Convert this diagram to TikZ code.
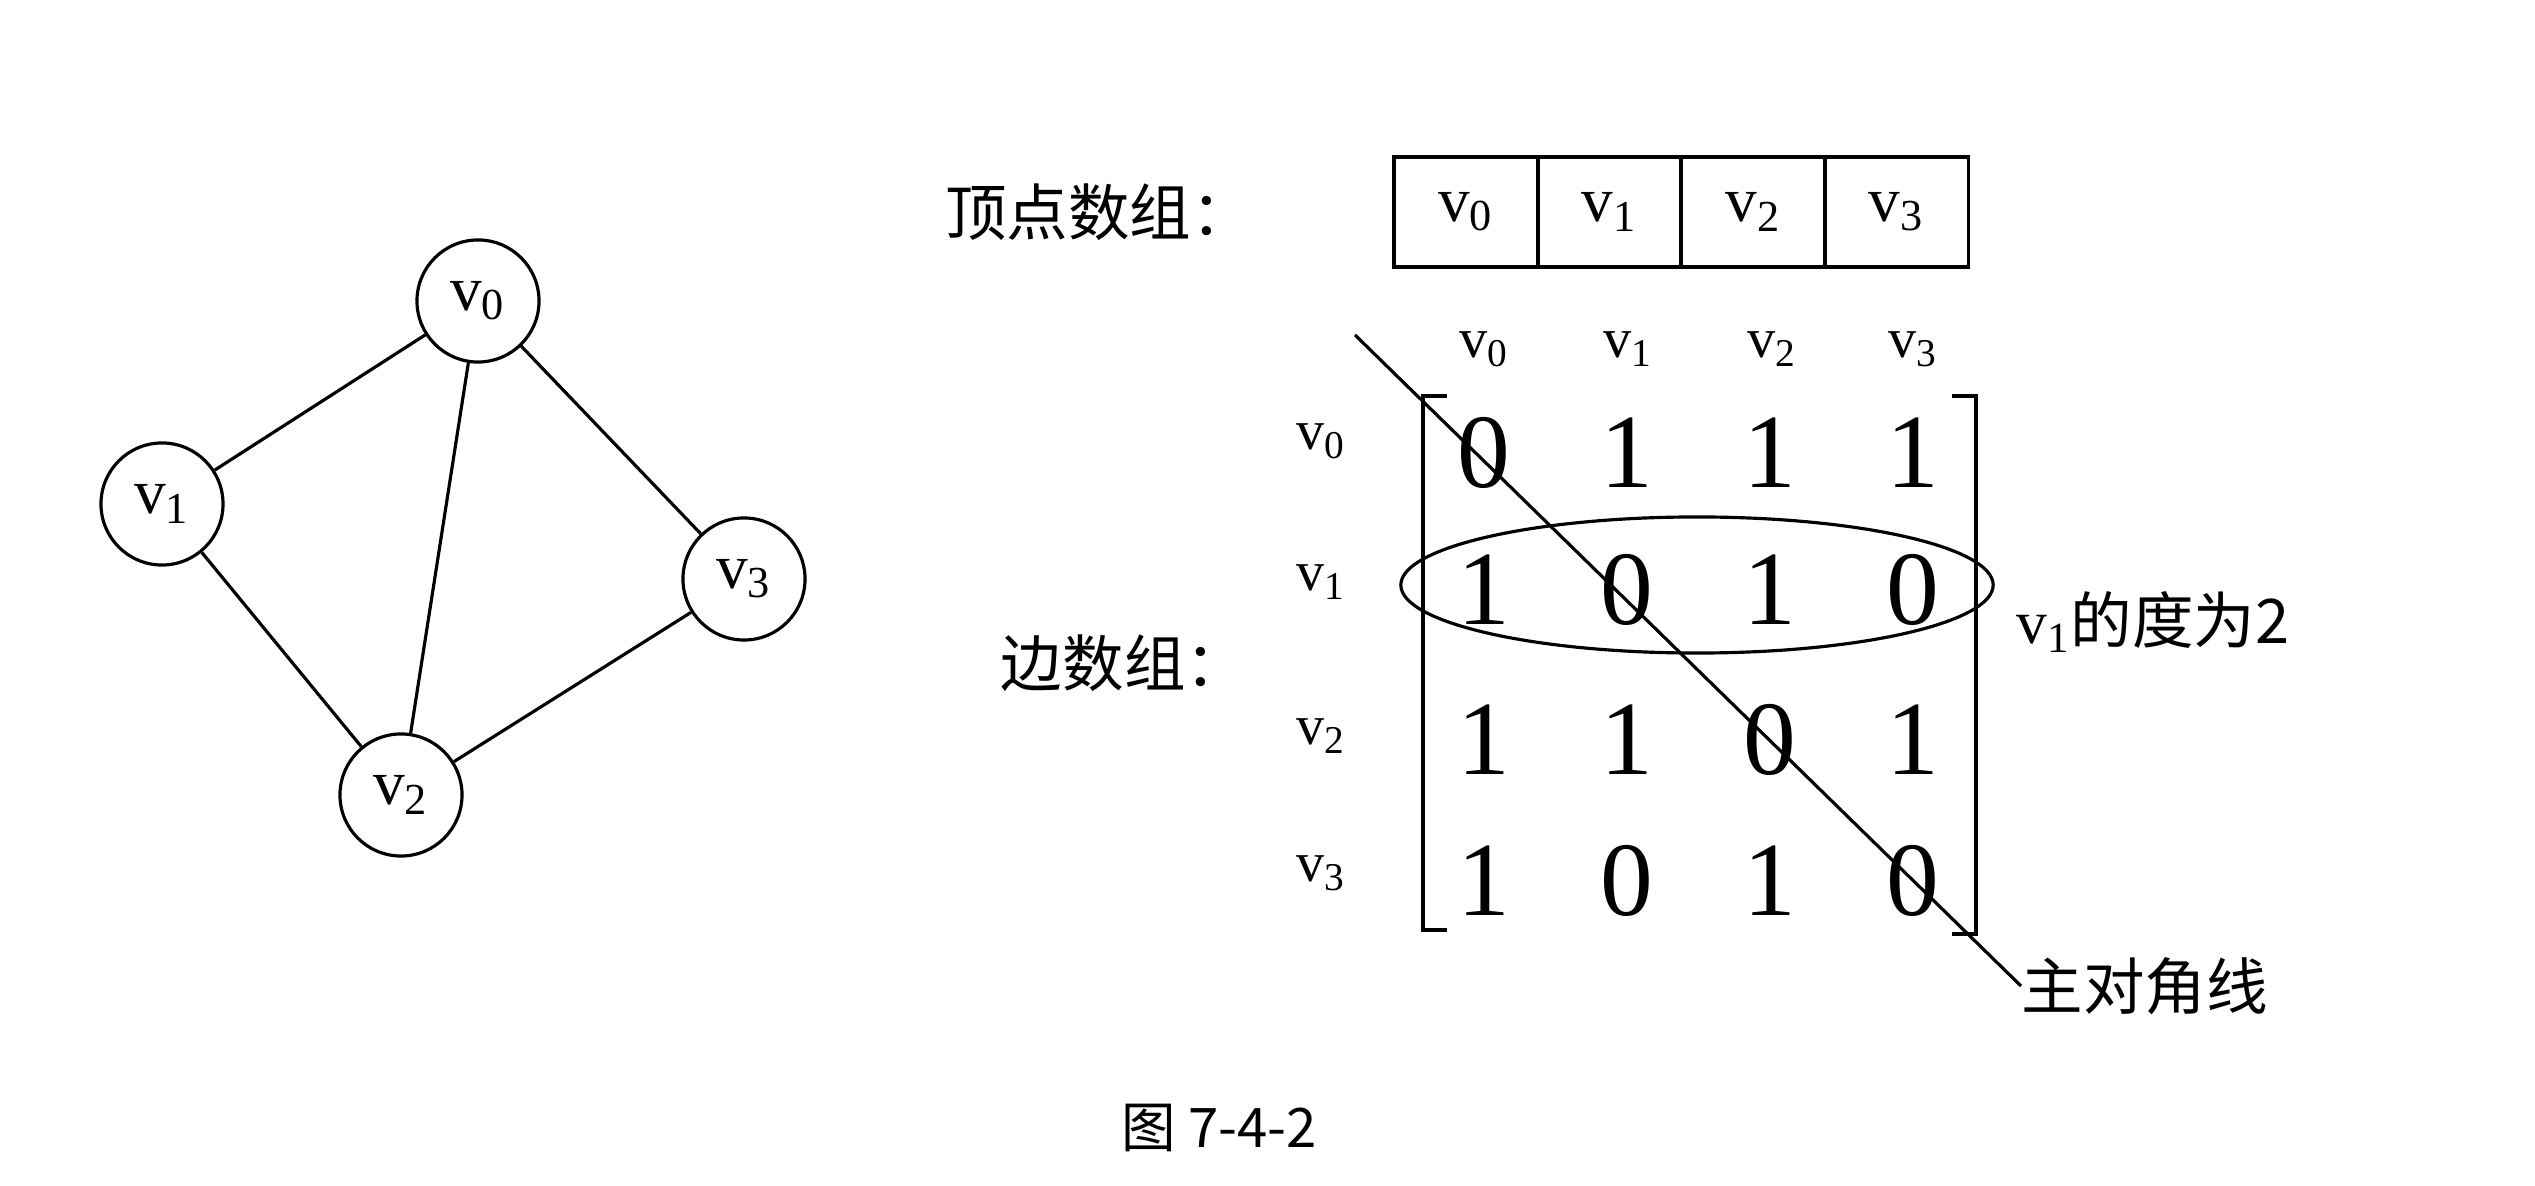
\documentclass[tikz,border=0pt]{standalone}
\usepackage{fontspec}
\setmainfont{Liberation Serif}
\newfontfamily\cjk{Noto Sans CJK SC}
\usetikzlibrary{positioning}
\tikzset{>=latex}

\begin{document}
\begin{tikzpicture}[x=0.01cm,y=-0.01cm,
  vertex/.style={draw,circle,line width=0.9pt,minimum size=1.22cm,inner sep=0pt,font=\fontsize{18}{20}\selectfont},
  cell/.style={draw,rectangle,line width=1.1pt,minimum width=1.435cm,minimum height=1.1cm,inner sep=0pt,outer sep=0pt,font=\fontsize{18}{20}\selectfont},
  entry/.style={inner sep=0pt,font=\fontsize{30}{32}\selectfont},
  head/.style={inner sep=0pt,font=\fontsize{16}{18}\selectfont},
  label/.style={inner sep=0pt,font=\cjk\fontsize{17.5}{20}\selectfont},
  edge/.style={line width=0.9pt}]
  \useasboundingbox (0,0) rectangle (2535,1186);
  % graph
  \node[vertex] (v0) at (478,301) {v\textsubscript{0}};
  \node[vertex] (v1) at (162,504) {v\textsubscript{1}};
  \node[vertex] (v2) at (401,795) {v\textsubscript{2}};
  \node[vertex] (v3) at (744,579) {v\textsubscript{3}};
  \draw[edge] (v0) -- (v1) (v0) -- (v2) (v0) -- (v3) (v1) -- (v2) (v2) -- (v3);
  % vertex array
  \node[label] (vlabel) at (1099,212) {顶点数组：};
  \node[cell] (c0) at (1466,212) {v\textsubscript{0}};
  \foreach \i/\j in {1/0,2/1,3/2}
    \node[cell,right=0pt of c\j] (c\i) {v\textsubscript{\i}};
  % edge array
  \node[label] (elabel) at (1124,663) {边数组：};
  \foreach \c/\x in {0/1484,1/1628,2/1772,3/1913}
    \node[head] (h\c) at (\x,349) {v\textsubscript{\c}};
  \foreach \r/\y in {0/441,1/582,2/736,3/873}
    \node[head] (r\r) at (1321,\y) {v\textsubscript{\r}};
  \foreach \r/\y/\row in {0/453/{0,1,1,1},1/590/{1,0,1,0},2/740/{1,1,0,1},3/881/{1,0,1,0}}
    \foreach \v [count=\c from 0] in \row
      \node[entry] (m-\r-\c) at ({1484+143*\c},\y) {\v};
  \draw[line width=1.3pt] (1447,396) -- (1423,396) -- (1423,930) -- (1447,930);
  \draw[line width=1.3pt] (1952,396) -- (1976,396) -- (1976,934) -- (1952,934);
  % degree of v1
  \draw[edge] (1697,585) ellipse [x radius=2.96cm, y radius=0.68cm];
  \node[label,anchor=west] (deg) at (2016,622) {{\rmfamily v\textsubscript{1}}的度为2};
  % main diagonal
  \coordinate (dstart) at (1355,335);
  \node[label,anchor=west] (diag) at (2021,986) {主对角线};
  \draw[edge] (dstart) -- (diag.west);
  % caption
  \node[label,font=\cjk\fontsize{15.5}{18}\selectfont] (fig) at (1219,1128) {图 7-4-2};
\end{tikzpicture}
\end{document}
